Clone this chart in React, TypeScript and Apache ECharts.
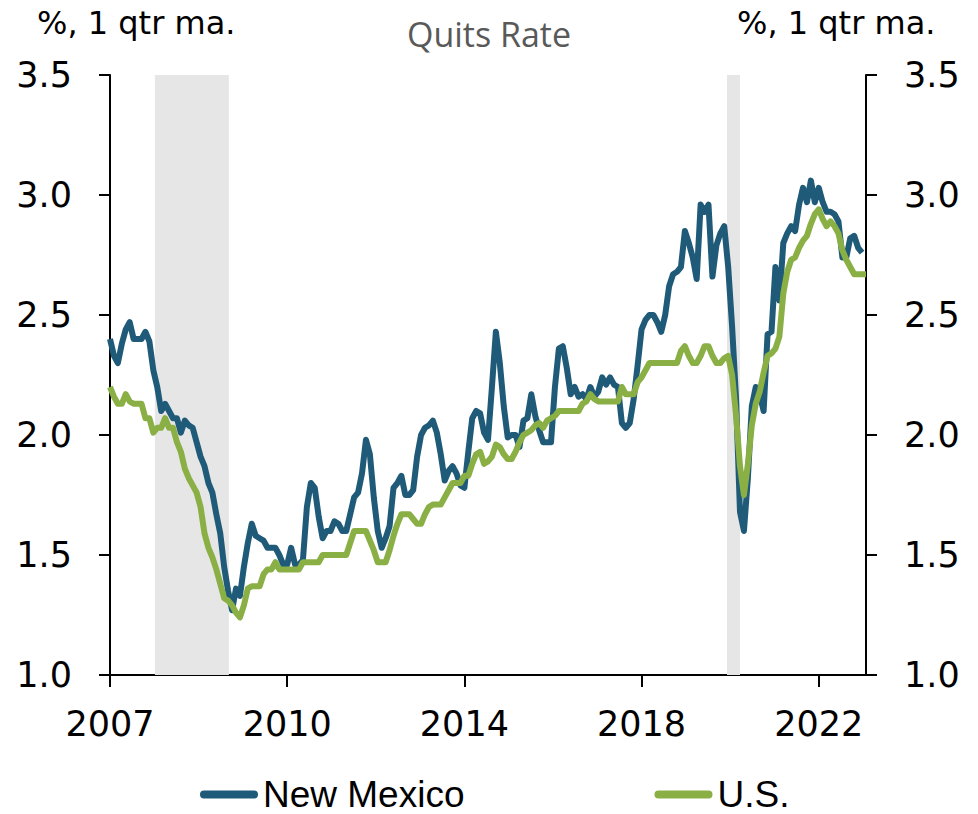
import React, { useEffect, useRef } from "react";
import * as echarts from "echarts";

// Monthly quits rate, % (1 qtr moving average), Jan 2007 onward
const newMexico: number[] = [
  // 2007
  2.40, 2.33, 2.30, 2.38, 2.44, 2.47, 2.40, 2.40, 2.40, 2.43, 2.39, 2.27,
  // 2008
  2.20, 2.10, 2.13, 2.10, 2.07, 2.07, 2.01, 2.06, 2.04, 2.03, 1.97, 1.91,
  // 2009
  1.87, 1.80, 1.76, 1.67, 1.59, 1.45, 1.35, 1.27, 1.36, 1.33, 1.45, 1.55,
  // 2010
  1.63, 1.58, 1.57, 1.56, 1.53, 1.53, 1.53, 1.50, 1.46, 1.46, 1.53, 1.46,
  // 2011
  1.46, 1.48, 1.70, 1.80, 1.78, 1.66, 1.57, 1.60, 1.60, 1.64, 1.63, 1.60,
  // 2012
  1.60, 1.67, 1.74, 1.76, 1.84, 1.98, 1.92, 1.74, 1.60, 1.53, 1.57, 1.62,
  // 2013
  1.78, 1.80, 1.83, 1.75, 1.75, 1.77, 1.91, 2.00, 2.03, 2.04, 2.06, 2.01,
  // 2014
  1.92, 1.81, 1.85, 1.87, 1.84, 1.79, 1.78, 1.93, 2.07, 2.10, 2.09, 2.01,
  // 2015
  1.98, 2.20, 2.43, 2.30, 2.12, 1.99, 2.00, 2.00, 1.95, 2.06, 2.07, 2.17,
  // 2016
  2.08, 2.02, 1.97, 1.97, 1.97, 2.20, 2.36, 2.37, 2.28, 2.17, 2.20, 2.16,
  // 2017
  2.17, 2.15, 2.20, 2.16, 2.18, 2.24, 2.21, 2.24, 2.21, 2.20, 2.05, 2.03,
  // 2018
  2.05, 2.15, 2.29, 2.44, 2.48, 2.50, 2.50, 2.47, 2.43, 2.50, 2.62, 2.67,
  // 2019
  2.68, 2.70, 2.85, 2.80, 2.74, 2.65, 2.96, 2.93, 2.96, 2.66, 2.79, 2.84,
  // 2020
  2.87, 2.70, 2.45, 2.15, 1.68, 1.60, 1.82, 2.12, 2.20, 2.17, 2.10, 2.42,
  // 2021
  2.43, 2.70, 2.56, 2.80, 2.84, 2.87, 2.85, 2.96, 3.03, 2.97, 3.06, 2.97,
  // 2022
  3.03, 2.97, 2.93, 2.93, 2.92, 2.89, 2.74, 2.74, 2.82, 2.83, 2.78, 2.76,
];

const usRate: number[] = [
  // 2007
  2.20, 2.16, 2.13, 2.13, 2.17, 2.14, 2.13, 2.13, 2.13, 2.07, 2.07, 2.01,
  // 2008
  2.03, 2.03, 2.07, 2.03, 2.03, 1.97, 1.93, 1.86, 1.82, 1.79, 1.76, 1.70,
  // 2009
  1.59, 1.53, 1.49, 1.44, 1.38, 1.32, 1.31, 1.29, 1.26, 1.24, 1.29, 1.36,
  // 2010
  1.37, 1.37, 1.37, 1.42, 1.44, 1.44, 1.47, 1.44, 1.44, 1.44, 1.44, 1.44,
  // 2011
  1.44, 1.47, 1.47, 1.47, 1.47, 1.47, 1.50, 1.50, 1.50, 1.50, 1.50, 1.50,
  // 2012
  1.50, 1.55, 1.60, 1.60, 1.60, 1.60, 1.56, 1.52, 1.47, 1.47, 1.47, 1.52,
  // 2013
  1.58, 1.63, 1.67, 1.67, 1.67, 1.65, 1.63, 1.63, 1.67, 1.70, 1.71, 1.71,
  // 2014
  1.71, 1.74, 1.77, 1.80, 1.80, 1.80, 1.83, 1.83, 1.88, 1.92, 1.93, 1.88,
  // 2015
  1.89, 1.91, 1.96, 1.95, 1.92, 1.90, 1.90, 1.93, 1.97, 2.00, 2.01, 2.02,
  // 2016
  2.04, 2.05, 2.03, 2.06, 2.07, 2.08, 2.10, 2.10, 2.10, 2.10, 2.10, 2.10,
  // 2017
  2.13, 2.14, 2.17, 2.15, 2.14, 2.14, 2.14, 2.14, 2.14, 2.14, 2.20, 2.17,
  // 2018
  2.17, 2.17, 2.22, 2.24, 2.27, 2.30, 2.30, 2.30, 2.30, 2.30, 2.30, 2.30,
  // 2019
  2.30, 2.35, 2.37, 2.33, 2.30, 2.30, 2.33, 2.37, 2.37, 2.33, 2.30, 2.30,
  // 2020
  2.32, 2.33, 2.25, 2.08, 1.87, 1.75, 1.88, 2.04, 2.13, 2.18, 2.26, 2.33,
  // 2021
  2.34, 2.36, 2.41, 2.59, 2.68, 2.73, 2.74, 2.78, 2.81, 2.83, 2.88, 2.92,
  // 2022
  2.94, 2.90, 2.87, 2.89, 2.87, 2.84, 2.77, 2.73, 2.70, 2.67, 2.67, 2.67,
  // 2023
  2.67,
];

// month index (0 = Jan 2007) of the labelled ticks
const xTickIndex: number[] = [0, 45, 90, 135, 180];
const xTickLabels: string[] = ["2007", "2010", "2014", "2018", "2022"];
const xMaxIndex = 192;

// recession periods, in month index
const recessionStart: number[] = [11.4, 156.7];
const recessionEnd: number[] = [30.2, 160.0];

const seriesNames: string[] = ["New Mexico", "U.S."];
const seriesColors: string[] = ["#1F5B79", "#8AAF45"];

const unitLabel = "%, 1 qtr ma.";

export default function App() {
  const ref = useRef<HTMLDivElement>(null);

  useEffect(() => {
    if (!ref.current) return;
    const chart = echarts.init(ref.current, null, { renderer: "svg" });
    const numFont = "'DejaVu Sans', sans-serif";

    const toPairs = (arr: number[]) => arr.map((v, i) => [i, v]);

    const yAxisCommon = {
      type: "value",
      min: 1,
      max: 3.5,
      interval: 0.5,
      splitLine: { show: false },
      axisLine: { show: true, lineStyle: { color: "#000", width: 2 } },
      axisTick: { show: true, length: 11, lineStyle: { color: "#000", width: 2 } },
      axisLabel: {
        margin: 38,
        fontFamily: numFont,
        fontSize: 35,
        color: "#000",
        formatter: (v: number) => v.toFixed(1),
      },
    };

    chart.setOption({
      animation: false,
      backgroundColor: "#fff",
      title: {
        text: "Quits Rate",
        left: "center",
        top: 17,
        padding: 0,
        textStyle: {
          fontFamily: "'Open Sans', sans-serif",
          fontSize: 34,
          fontWeight: "normal",
          color: "#595959",
        },
      },
      graphic: [
        {
          type: "text",
          left: 37,
          top: 7,
          style: { text: unitLabel, font: `32px ${numFont}`, fill: "#000" },
        },
        {
          type: "text",
          left: 737,
          top: 7,
          style: { text: unitLabel, font: `32px ${numFont}`, fill: "#000" },
        },
      ],
      legend: {
        left: 200,
        top: 776,
        padding: 0,
        itemWidth: 58,
        itemHeight: 8,
        itemGap: 190,
        icon: "path://M4,0 H54 A4,4 0 0 1 54,8 H4 A4,4 0 0 1 4,0 Z",
        data: seriesNames,
        textStyle: {
          fontFamily: "'Liberation Sans', Arial, sans-serif",
          fontSize: 37,
          color: "#000",
        },
      },
      grid: { left: 110, right: 112, top: 75, bottom: 139 },
      xAxis: {
        type: "value",
        min: 0,
        max: xMaxIndex,
        interval: 45,
        splitLine: { show: false },
        axisLine: { show: true, onZero: false, lineStyle: { color: "#000", width: 2 } },
        axisTick: {
          show: true,
          length: 12,
          customValues: xTickIndex,
          lineStyle: { color: "#000", width: 2 },
        },
        axisLabel: {
          margin: 31,
          fontFamily: numFont,
          fontSize: 35,
          color: "#000",
          customValues: xTickIndex,
          formatter: (v: number) => {
            const k = xTickIndex.indexOf(Math.round(v));
            return k >= 0 ? xTickLabels[k] : "";
          },
        },
      },
      yAxis: [
        { ...yAxisCommon, position: "left" },
        { ...yAxisCommon, position: "right" },
      ],
      series: [
        {
          name: "recessions",
          type: "line",
          data: [],
          z: -1,
          silent: true,
          markArea: {
            silent: true,
            itemStyle: { color: "#E6E6E6" },
            data: recessionStart.map((s, i) => [{ xAxis: s }, { xAxis: recessionEnd[i] }]),
          },
        },
        {
          name: seriesNames[0],
          type: "line",
          data: toPairs(newMexico),
          showSymbol: false,
          symbol: "none",
          color: seriesColors[0],
          lineStyle: { width: 6, color: seriesColors[0], join: "round" },
          z: 2,
        },
        {
          name: seriesNames[1],
          type: "line",
          data: toPairs(usRate),
          showSymbol: false,
          symbol: "none",
          color: seriesColors[1],
          lineStyle: { width: 6, color: seriesColors[1], join: "round" },
          z: 3,
        },
      ],
    });

    return () => chart.dispose();
  }, []);

  return (
    <div
      ref={ref}
      style={{ position: "absolute", left: 0, top: 0, width: 978, height: 814 }}
    />
  );
}
